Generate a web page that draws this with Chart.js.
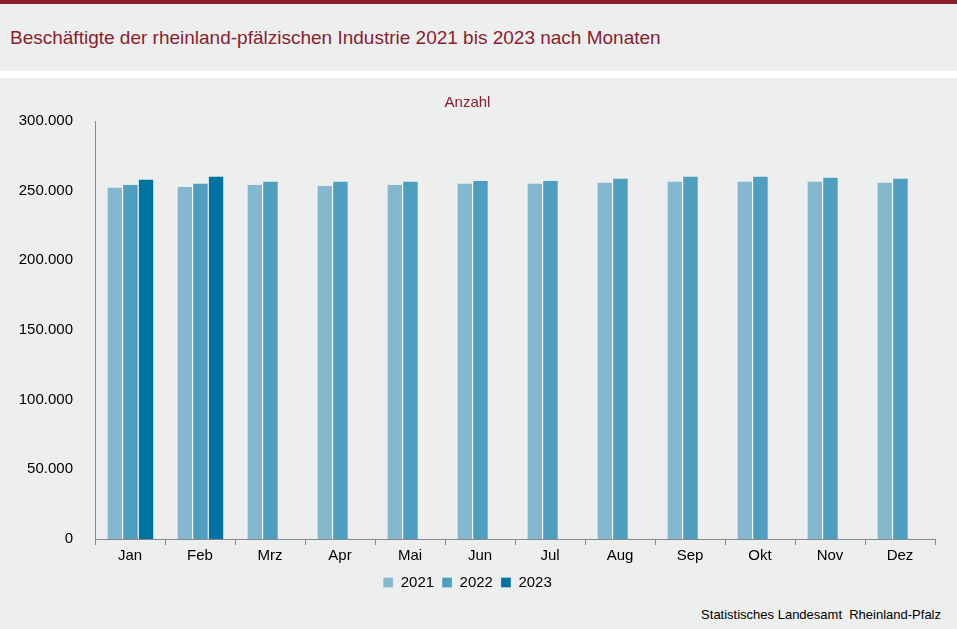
<!DOCTYPE html>
<html><head><meta charset="utf-8">
<script src="https://cdn.jsdelivr.net/npm/chart.js@4"></script>
<style>
body{margin:0;width:957px;height:629px;background:#edefee;font-family:"Liberation Sans",Arial,sans-serif;position:relative;overflow:hidden}
#top{position:absolute;left:0;top:0;width:957px;height:4px;background:#8a1d2e}
#title{position:absolute;left:10px;top:27px;font-size:19px;color:#8a1d2e}
#strip{position:absolute;left:0;top:71px;width:957px;height:7px;background:#fff}
#wrap{position:absolute;left:0;top:78px;width:957px;height:526px}
#src{position:absolute;right:16px;top:607px;font-size:13px;color:#000}
</style></head><body>
<div id="top"></div><div id="title">Beschäftigte der rheinland-pfälzischen Industrie 2021 bis 2023 nach Monaten</div>
<div id="strip"></div>
<div id="wrap"><canvas id="c"></canvas></div>
<div id="src">Statistisches Landesamt&nbsp; Rheinland-Pfalz</div>
<script>
const categories=["Jan","Feb","Mrz","Apr","Mai","Jun","Jul","Aug","Sep","Okt","Nov","Dez"];
const v2021=[252200,252900,254300,253600,254300,255100,255100,255800,256500,256500,256500,255800];
const v2022=[254300,255100,256500,256500,256500,257200,257200,258700,260100,260100,259400,258700];
const v2023=[258000,260100,null,null,null,null,null,null,null,null,null,null];
const yTicks=[0,50000,100000,150000,200000,250000,300000];
const F="'Liberation Sans', Arial, sans-serif";
const ds=(l,d,c)=>({label:l,data:d,backgroundColor:c,borderColor:'#fff',borderWidth:{left:1,right:0,top:0,bottom:0},borderSkipped:false,categoryPercentage:0.67,barPercentage:1});
new Chart(document.getElementById('c'),{type:'bar',
data:{labels:categories,datasets:[ds('2021',v2021,'#84b7d0'),ds('2022',v2022,'#4e9ec0'),ds('2023',v2023,'#0073a3')]},
options:{responsive:true,maintainAspectRatio:false,animation:false,
layout:{padding:{left:0,right:22,top:0,bottom:4}},
plugins:{tooltip:{enabled:false},
title:{display:true,text:'Anzahl',color:'#8a1d2e',font:{family:F,size:15,weight:'normal'},padding:{top:16,bottom:9}},
legend:{position:'bottom',labels:{boxWidth:10,boxHeight:10,color:'#000',font:{family:F,size:15},padding:8}}},
scales:{
x:{grid:{offset:true,drawOnChartArea:false,tickLength:6,color:'#888'},border:{color:'#888'},ticks:{color:'#000',font:{family:F,size:15},padding:2}},
y:{min:0,max:300000,afterBuildTicks:s=>{s.ticks=yTicks.map(v=>({value:v}))},afterFit:s=>{s.width=95},
grid:{display:false},border:{color:'#888'},
ticks:{color:'#000',font:{family:F,size:15},padding:14,callback:v=>v.toLocaleString('de-DE')}}}}});
</script></body></html>
